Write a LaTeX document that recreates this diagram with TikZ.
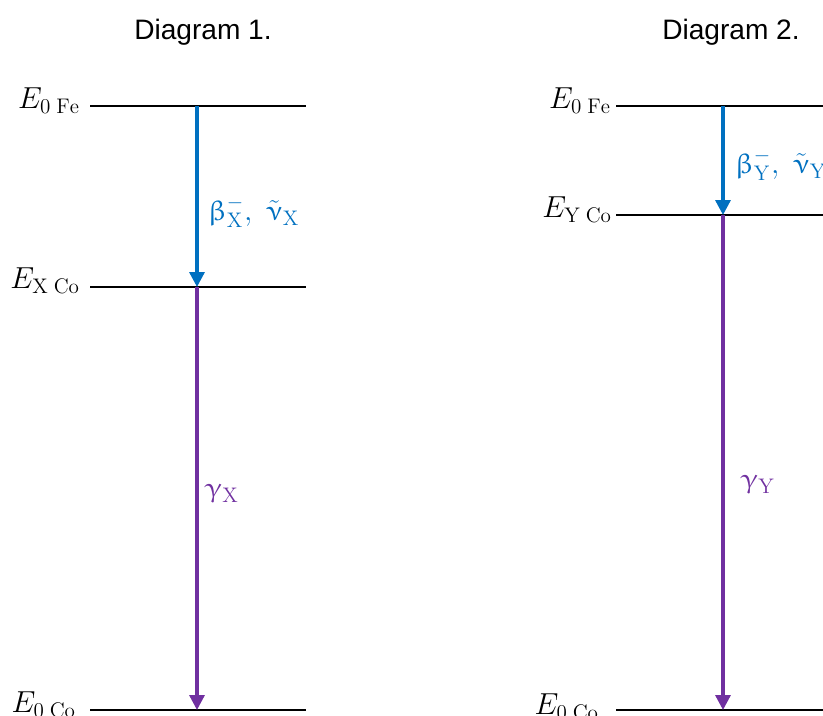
\documentclass[tikz,border=0pt]{standalone}
\usepackage{fontspec}
\usepackage{upgreek}
\newfontfamily\headfont{Liberation Sans}
\usetikzlibrary{arrows.meta}
\definecolor{decayblue}{RGB}{0,112,192}
\definecolor{decaypurple}{RGB}{112,48,160}
\DeclareMathSizes{16}{16}{12}{9}

\begin{document}
\begin{tikzpicture}[x=0.02cm, y=-0.02cm, >={Triangle[length=8.5pt,width=8.5pt]},
  font=\fontsize{16}{19}\selectfont,
  level/.style={line width=1.6pt},
  betaarr/.style={->, decayblue, line width=1.9pt},
  gammaarr/.style={->, decaypurple, line width=1.9pt},
  lvl/.style={anchor=east, inner sep=1pt},
  heading/.style={font=\headfont\fontsize{16}{19}\selectfont}]
  \useasboundingbox (0,0) rectangle (823,716);
  \clip (0,0) rectangle (823,716);

  % Diagram 1
  \node[heading] (t1) at (203,32) {Diagram 1.};
  \coordinate (feA) at (197,106);
  \coordinate (coA) at (197,287);
  \coordinate (gsA) at (197,710);
  \draw[level] (90,106) -- (306,106);
  \draw[level] (90,287) -- (306,287);
  \draw[level] (90,710) -- (306,710);
  \node[lvl] (efeA) at (82,101) {$E_{0\;\mathrm{Fe}}$};
  \node[lvl] (ecoA) at (82,281) {$E_{\mathrm{X\;Co}}$};
  \node[lvl] (egsA) at (78,705) {$E_{0\;\mathrm{Co}}$};
  \draw[betaarr] (feA) -- (coA);
  \draw[gammaarr] (coA) -- (gsA);
  \node[anchor=west, decayblue] (bA) at (202,212)
    {$\upbeta^{-}_{\mathrm{X}},\ \tilde{\upnu}_{\mathrm{X}}$};
  \node[anchor=west, decaypurple] (gA) at (199,494) {$\upgamma_{\mathrm{X}}$};

  % Diagram 2
  \node[heading] (t2) at (731,32) {Diagram 2.};
  \coordinate (feB) at (723,106);
  \coordinate (coB) at (723,215);
  \coordinate (gsB) at (723,710);
  \draw[level] (616,106) -- (830,106);
  \draw[level] (616,215) -- (830,215);
  \draw[level] (616,710) -- (830,710);
  \node[lvl] (efeB) at (613,101) {$E_{0\;\mathrm{Fe}}$};
  \node[lvl] (ecoB) at (614,210) {$E_{\mathrm{Y\;Co}}$};
  \node[lvl] (egsB) at (601,707) {$E_{0\;\mathrm{Co}}$};
  \draw[betaarr] (feB) -- (coB);
  \draw[gammaarr] (coB) -- (gsB);
  \node[anchor=west, decayblue] (bB) at (729,165)
    {$\upbeta^{-}_{\mathrm{Y}},\ \tilde{\upnu}_{\mathrm{Y}}$};
  \node[anchor=west, decaypurple] (gB) at (735,485) {$\upgamma_{\mathrm{Y}}$};
\end{tikzpicture}
\end{document}
